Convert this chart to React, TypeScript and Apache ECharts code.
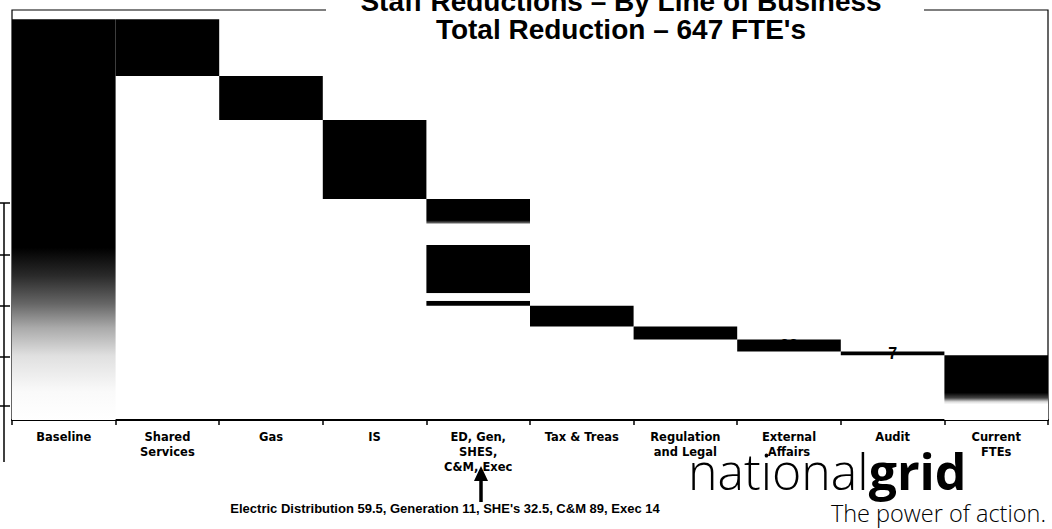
import React, { useEffect, useRef } from "react";
import * as echarts from "echarts";

const categories = [
  "Baseline",
  "Shared\nServices",
  "Gas",
  "IS",
  "ED, Gen,\nSHES,\nC&M, Exec",
  "Tax & Treas",
  "Regulation\nand Legal",
  "External\nAffairs",
  "Audit",
  "Current\nFTEs",
];
const baselineFTE = 772;
const reductions = [109, 85, 152, 206, 40, 25, 23, 7];
const currentFTE = 125;
const titleLines = ["Staff Reductions – By Line of Business", "Total Reduction – 647 FTE's"];
const footnote = "Electric Distribution 59.5, Generation 11, SHE's 32.5, C&M 89, Exec 14";
const logoLight = "national";
const logoBold = "grid";
const tagline = "The power of action.";
const leftTickYs = [203, 255, 306, 357, 406];

export default function App() {
  const ref = useRef<HTMLDivElement>(null);
  useEffect(() => {
    if (!ref.current) return;
    document.body.style.margin = "0";
    const chart = echarts.init(ref.current, null, { renderer: "svg" });

    const values = [baselineFTE, ...reductions, currentFTE];
    const bases: number[] = [0];
    let running = baselineFTE;
    reductions.forEach((r) => {
      running -= r;
      bases.push(running);
    });
    bases.push(0);

    const grad = (stops: [number, string][]) =>
      new echarts.graphic.LinearGradient(
        0, 0, 0, 1,
        stops.map(([offset, color]) => ({ offset, color }))
      );
    const baselineFill = grad([
      [0, "#000"], [0.57, "#000"], [0.64, "#2a2a2a"], [0.71, "#666"],
      [0.77, "#aaa"], [0.84, "#e0e0e0"], [0.93, "#fafafa"], [1, "#fff"],
    ]);
    const currentFill = grad([
      [0, "#000"], [0.58, "#000"], [0.66, "#444"], [0.72, "#ddd"], [0.76, "#fff"], [1, "#fff"],
    ]);
    const edFill = grad([
      [0, "#000"], [0.2, "#000"], [0.225, "#666"], [0.235, "#fff"],
      [0.43, "#fff"], [0.435, "#000"], [0.88, "#000"], [0.885, "#fff"],
      [0.95, "#fff"], [0.955, "#000"], [1, "#000"],
    ]);

    const valueData = values.map((v, i) => {
      let color: any = "#000";
      if (i === 0) color = baselineFill;
      else if (i === values.length - 1) color = currentFill;
      else if (i === 4) color = edFill;
      return { value: v, itemStyle: { color } };
    });

    const leftAxis: any[] = [
      {
        type: "line",
        z: 10,
        shape: { x1: 4, y1: leftTickYs[0], x2: 4, y2: 462 },
        style: { stroke: "#000", lineWidth: 1.5 },
      },
      ...leftTickYs.map((y) => ({
        type: "line",
        z: 10,
        shape: { x1: 0, y1: y, x2: 10, y2: y },
        style: { stroke: "#000", lineWidth: 1.5 },
      })),
    ];

    chart.setOption({
      animation: false,
      backgroundColor: "#fff",
      grid: {
        left: 12,
        right: 4,
        top: 10,
        bottom: 109,
        show: true,
        borderColor: "#000",
        borderWidth: 1.2,
        backgroundColor: "transparent",
      },
      xAxis: {
        type: "category",
        data: categories,
        axisLine: { show: true, lineStyle: { color: "#000", width: 2 } },
        axisTick: { show: true, length: 5, lineStyle: { color: "#000", width: 1.5 } },
        axisLabel: {
          interval: 0,
          color: "#000",
          fontFamily: "DejaVu Sans",
          fontWeight: "bold",
          fontSize: 11.5,
          lineHeight: 15,
          margin: 9,
        },
      },
      yAxis: { type: "value", min: 0, max: 790, show: false },
      series: [
        {
          name: "base",
          type: "bar",
          stack: "wf",
          barCategoryGap: "0%",
          itemStyle: { color: "transparent" },
          data: bases,
          silent: true,
        },
        {
          name: "FTE",
          type: "bar",
          stack: "wf",
          barCategoryGap: "0%",
          data: valueData,
          label: {
            show: true,
            position: "inside",
            color: "#000",
            fontFamily: "Liberation Sans",
            fontWeight: "bold",
            fontSize: 16,
          },
        },
      ],
      graphic: [
        {
          type: "rect",
          z: 20,
          shape: { x: 326, y: 0, width: 598, height: 44 },
          style: { fill: "#fff" },
        },
        {
          type: "text",
          z: 21,
          x: 621,
          y: -13,
          style: {
            text: titleLines.join("\n"),
            textAlign: "center",
            textVerticalAlign: "top",
            font: "bold 28px 'Liberation Sans'",
            lineHeight: 28,
            fill: "#000",
          },
        },
        ...leftAxis,
        {
          type: "text",
          z: 21,
          x: 445,
          y: 508,
          style: {
            text: footnote,
            textAlign: "center",
            textVerticalAlign: "middle",
            font: "bold 13px 'Liberation Sans Narrow', 'Liberation Sans', sans-serif",
            fill: "#000",
          },
        },
        {
          type: "line",
          z: 21,
          shape: { x1: 481, y1: 478, x2: 481, y2: 502 },
          style: { stroke: "#000", lineWidth: 3.5 },
        },
        {
          type: "polygon",
          z: 21,
          shape: { points: [[474, 481], [488, 481], [481, 466]] },
          style: { fill: "#000" },
        },
        {
          type: "text",
          z: 21,
          x: 688,
          y: 471,
          style: {
            text: "{a|" + logoLight + "}{b|" + logoBold + "}",
            textVerticalAlign: "middle",
            rich: {
              a: { fontFamily: "Open Sans", fontWeight: 300, fontSize: 50, lineHeight: 16, fill: "#000", color: "#000" },
              b: { fontFamily: "Open Sans", fontWeight: "bold", fontSize: 50, lineHeight: 16, fill: "#000", color: "#000" },
            },
          },
        },
        {
          type: "text",
          z: 21,
          x: 1046,
          y: 513,
          style: {
            text: tagline,
            textAlign: "right",
            textVerticalAlign: "middle",
            font: "300 23.5px 'Open Sans'",
            fill: "#000",
          },
        },
      ],
    });
    return () => chart.dispose();
  }, []);
  return <div ref={ref} style={{ width: 1052, height: 529 }} />;
}
